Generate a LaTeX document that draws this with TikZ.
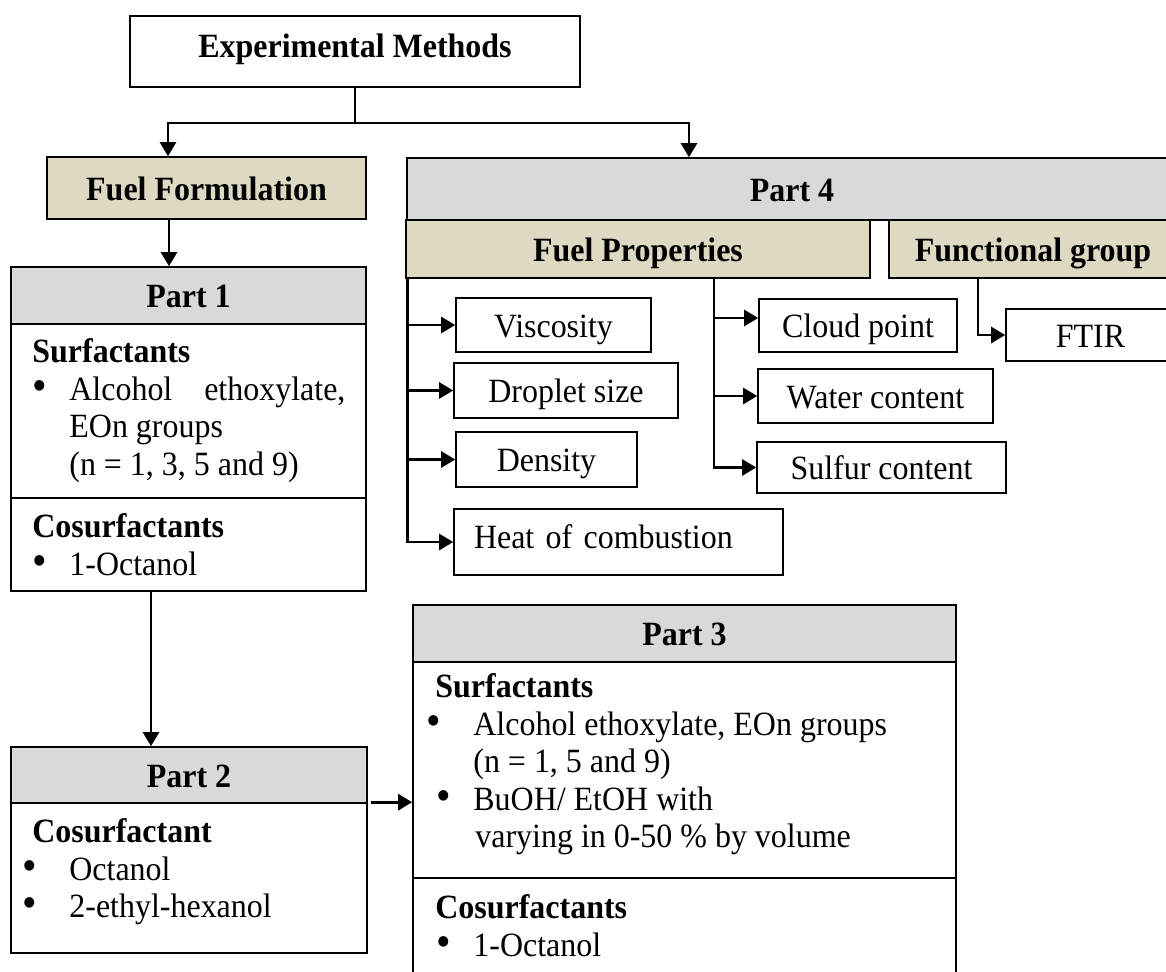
\documentclass[tikz,border=0pt]{standalone}
\usepackage{graphicx}
\usepackage{fontspec}
\setmainfont{Liberation Serif}[FakeStretch=0.94]
\usetikzlibrary{arrows.meta}
\definecolor{headgray}{HTML}{D9D9D9}
\definecolor{khaki}{HTML}{DDD9C3}
\newcommand{\bigtxt}{\fontsize{17pt}{18.75pt}\selectfont}
\newcommand{\bul}[2]{\makebox[#1][l]{\hspace{#2}\smash{\scalebox{1.3}{\textbullet}}}}
\tikzset{
  sz/.style 2 args={minimum width=#1*0.5pt, minimum height=#2*0.5pt},
  box/.style={draw, line width=0.8pt, inner sep=0pt, font=\bigtxt,
    text height=12.5pt, text depth=0.5pt},
  head/.style={box, fill=headgray, font=\bigtxt\bfseries},
  cat/.style={box, fill=khaki, font=\bigtxt\bfseries},
  txt/.style={anchor=north west, align=left, inner sep=0pt, font=\bigtxt},
  arr/.style={line width=1.3pt, -{Triangle[length=7pt,width=8pt]}}
}

\begin{document}
\begin{tikzpicture}[x=0.5pt,y=-0.5pt]
\useasboundingbox (0,0) rectangle (1166,971);
\clip (0,0) rectangle (1166,971);

% Top
\node[box, sz={450}{71}, font=\bigtxt\bfseries, text height=9.5pt, text depth=3.5pt] (em) at (355,51.5) {Experimental Methods};
\node[cat, sz={319}{62}] (fuelform) at (206.5,188) {Fuel Formulation};

% Part 1
\node[head, sz={355}{57}] (part1head) at (188.5,295.5) {Part 1};
\node[box, sz={355}{174}] (part1surf) at (188.5,411) {};
\node[box, sz={355}{93}] (part1cosurf) at (188.5,544.5) {};
\node[txt] (part1surftxt) at (32,336) {\strut\textbf{Surfactants}\\
  \bul{18.5pt}{0pt}\hbox to 138pt{Alcohol\hfill ethoxylate,}\\
  \hspace*{18.5pt}EOn groups\\
  \hspace*{18.5pt}(n = 1, 3, 5 and 9)};
\node[txt] (part1cosurftxt) at (32,511) {\strut\textbf{Cosurfactants}\\
  \bul{18.5pt}{0pt}1-Octanol};

% Part 2
\node[head, sz={356}{56}] (part2head) at (189,775) {Part 2};
\node[box, sz={356}{150}] (part2body) at (189,878) {};
\node[txt] (part2txt) at (22,816) {\strut\hspace{5pt}\textbf{Cosurfactant}\\
  \bul{23.5pt}{0pt}Octanol\\
  \bul{23.5pt}{0pt}2-ethyl-hexanol};

% Part 3
\node[head, sz={543}{57}] (part3head) at (684.5,633.5) {Part 3};
\node[box, sz={543}{216}] (part3surf) at (684.5,770) {};
\node[box, sz={543}{112}] (part3cosurf) at (684.5,934) {};
\node[txt] (part3surftxt) at (426,671) {\strut\hspace{4.5pt}\textbf{Surfactants}\\
  \bul{23.5pt}{0pt}Alcohol ethoxylate, EOn groups\\
  \hspace*{23.5pt}(n = 1, 5 and 9)\\
  \bul{23.5pt}{5pt}BuOH/ EtOH with\\
  \hspace*{24.5pt}varying in 0-50 \% by volume};
\node[txt] (part3cosurftxt) at (426,892) {\strut\hspace{4.5pt}\textbf{Cosurfactants}\\
  \bul{23.5pt}{5pt}1-Octanol};

% Part 4
\node[head, sz={770}{62}] (part4head) at (792,189) {Part 4};
\node[cat, sz={464}{58}] (fuelprop) at (638,249) {Fuel Properties};
\node[cat, sz={288}{58}] (funcgroup) at (1033,249) {Functional group};

\node[box, sz={195}{54}] (visc) at (553.5,325) {Viscosity};
\node[box, sz={224}{55}] (droplet) at (566,390.5) {Droplet size};
\node[box, sz={181}{55}] (density) at (546.5,459.5) {Density};
\node[box, align=left, text width=144.5pt, inner xsep=10pt, sz={329}{66}, text height=9.5pt, text depth=3.5pt] (heat) at (618.5,542) {Heat of combustion};
\node[box, sz={198}{53}] (cloud) at (858,325.5) {Cloud point};
\node[box, sz={235}{54}] (water) at (875.5,396) {Water content};
\node[box, sz={249}{51}] (sulfur) at (881.5,467.5) {Sulfur content};
\node[box, sz={169}{52}] (ftir) at (1090.5,335) {FTIR};

% Connectors
\coordinate (split) at (em.south |- 0,123);
\draw[arr] (em.south) -- (split) -| (168,0 |- fuelform.north);
\draw[arr] (split) -| (689,0 |- part4head.north);
\draw[arr] (169,0 |- fuelform.south) -- (169,0 |- part1head.north);
\draw[arr] (151,0 |- part1cosurf.south) -- (151,0 |- part2head.north);
\draw[arr] ([xshift=1.5pt]part2body.north east) -- (part3surf.west |- part2body.north east);

\coordinate (trunkA) at ([xshift=1pt]fuelprop.south west);
\draw[arr] (trunkA) |- (heat.west);
\foreach \n in {visc,droplet,density}
  \draw[arr] (trunkA |- \n.west) -- (\n.west);

\coordinate (trunkB) at (714,0 |- fuelprop.south);
\draw[arr] (trunkB) |- (sulfur.west);
\draw[arr] (trunkB |- water.west) -- (water.west);
\draw[arr] (trunkB |- 0,318) -- (cloud.west |- 0,318);

\draw[arr] (978,0 |- funcgroup.south) |- (ftir.west);
\end{tikzpicture}
\end{document}
